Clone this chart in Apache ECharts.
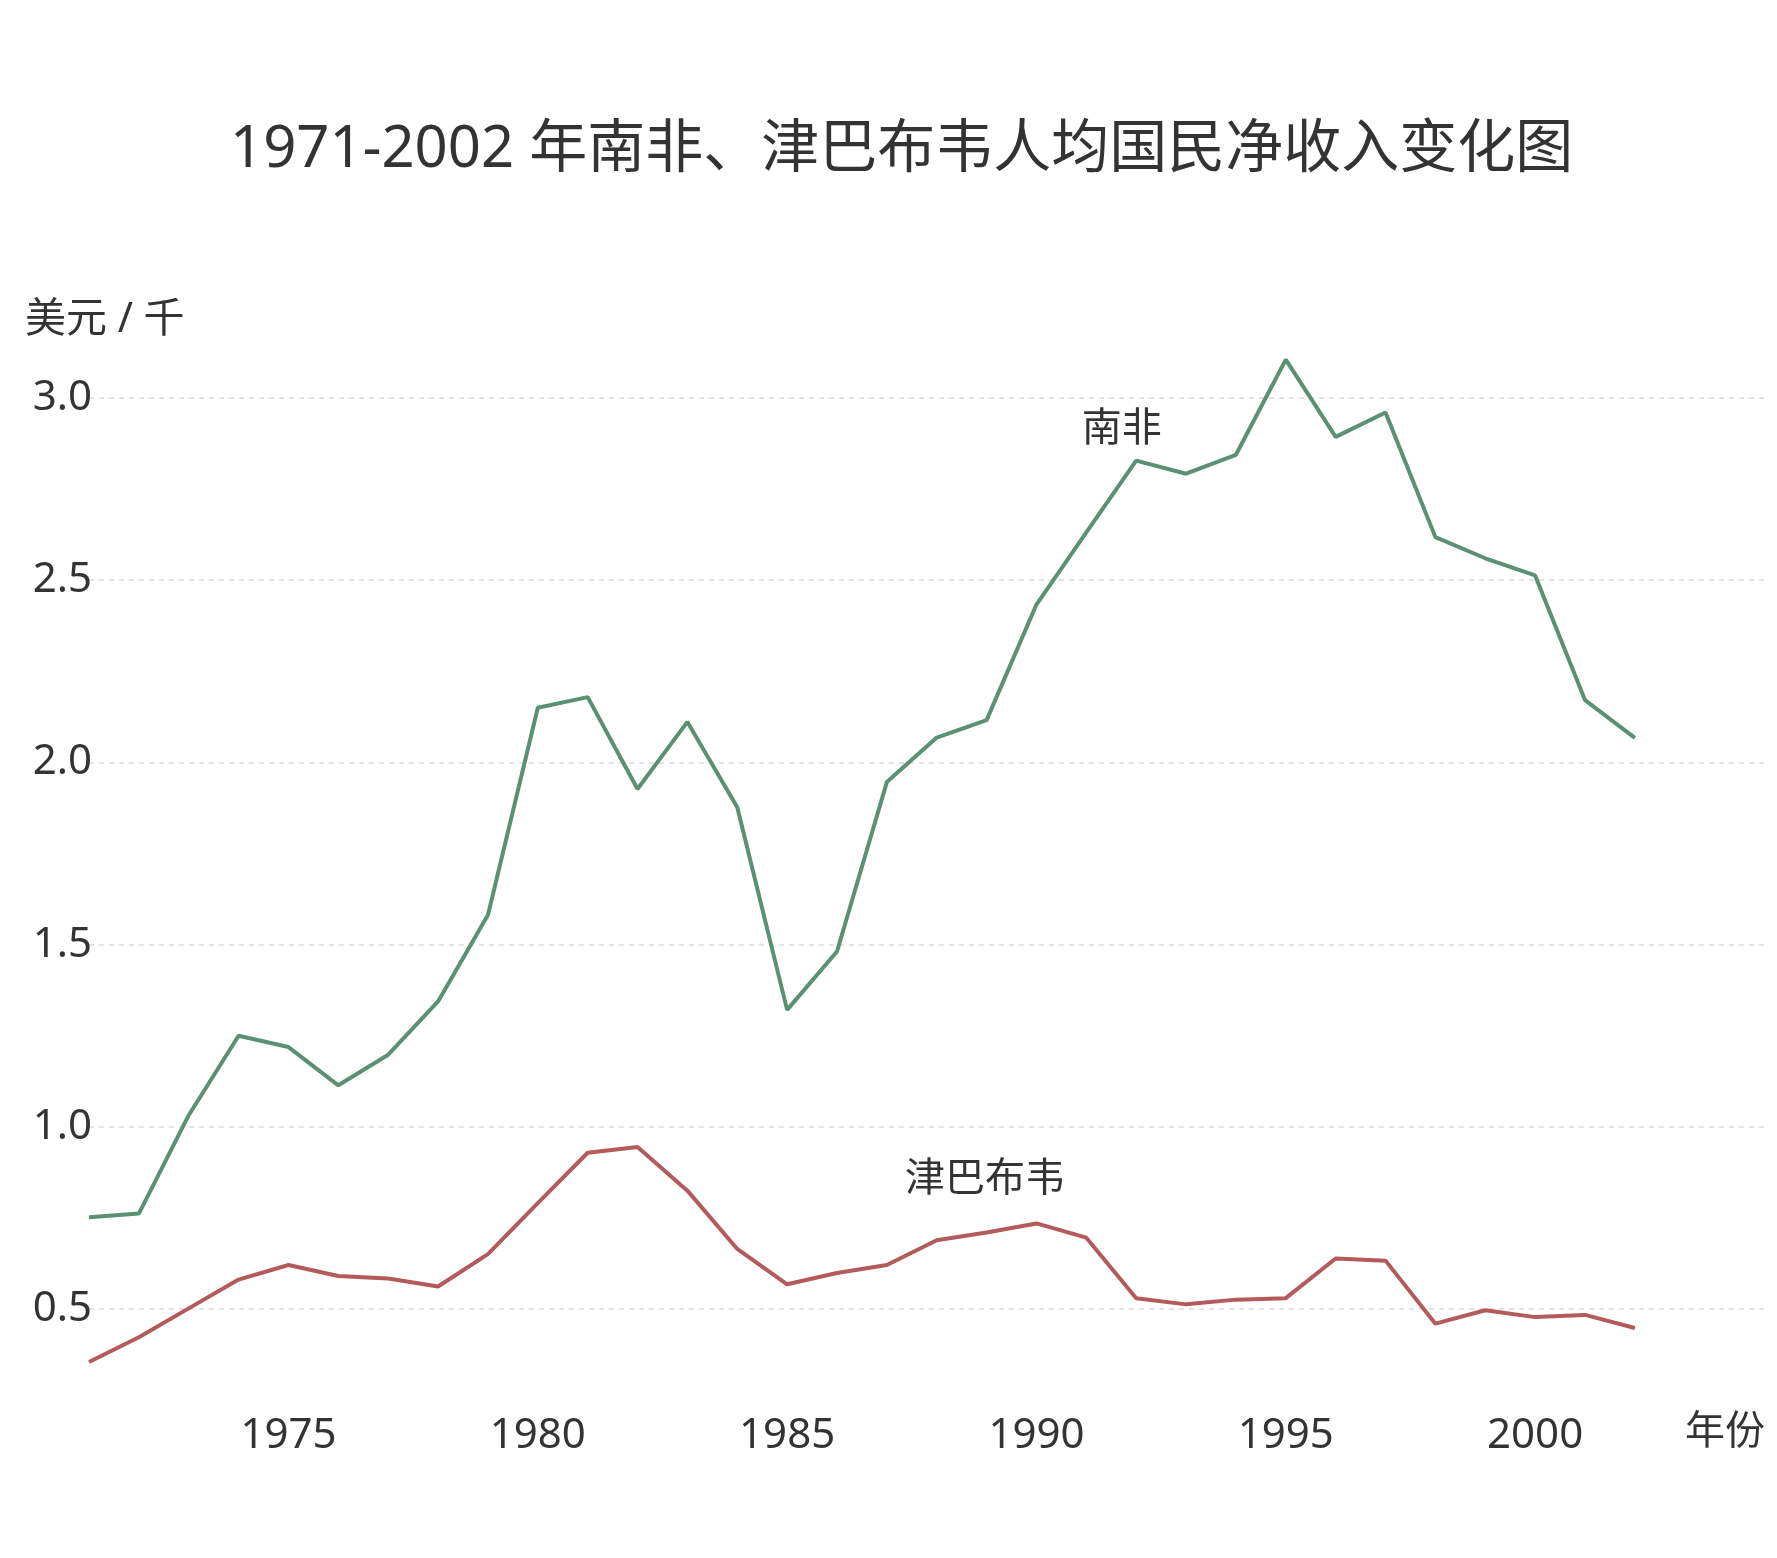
<!DOCTYPE html>
<html>
<head>
<meta charset="utf-8">
<script src="https://cdn.jsdelivr.net/npm/echarts@6/dist/echarts.min.js"></script>
<style>
html,body{margin:0;padding:0;background:#fff;}
#chart{width:1777px;height:1558px;}
</style>
</head>
<body>
<div id="chart"></div>
<script>
const years = [1971,1972,1973,1974,1975,1976,1977,1978,1979,1980,1981,1982,1983,1984,1985,1986,1987,1988,1989,1990,1991,1992,1993,1994,1995,1996,1997,1998,1999,2000,2001,2002];
const southAfrica = [0.752,0.762,1.032,1.250,1.219,1.114,1.198,1.344,1.581,2.150,2.179,1.927,2.111,1.877,1.321,1.481,1.946,2.068,2.116,2.433,2.631,2.828,2.792,2.844,3.105,2.893,2.960,2.618,2.560,2.513,2.171,2.067];
const zimbabwe = [0.355,0.423,0.502,0.581,0.621,0.591,0.584,0.562,0.651,0.791,0.929,0.945,0.825,0.665,0.568,0.599,0.621,0.689,0.710,0.735,0.696,0.530,0.513,0.526,0.530,0.639,0.633,0.460,0.497,0.478,0.484,0.448];
const yTicks = [0.5,1.0,1.5,2.0,2.5,3.0];
const xTicks = [1975,1980,1985,1990,1995,2000];
const seriesNames = ['南非','津巴布韦'];
const titleText = '1971-2002 年南非、津巴布韦人均国民净收入变化图';
const yAxisName = '美元 / 千';
const xAxisName = '年份';

const FONT = '"Noto Sans", "Noto Sans CJK SC", sans-serif';
const chart = echarts.init(document.getElementById('chart'));
const option = {
  backgroundColor: '#fff',
  animation: false,
  title: {
    text: titleText,
    left: 225,
    top: 116,
    textStyle: {fontFamily: FONT, fontSize: 58, fontWeight: 'normal', color: '#333'}
  },
  graphic: [
    {type: 'text', left: 25, top: 300, style: {text: yAxisName, font: '41px "Noto Sans", "Noto Sans CJK SC", sans-serif', fill: '#333'}},
    {type: 'text', left: 1685, top: 1413, style: {text: xAxisName, font: '40px "Noto Sans", "Noto Sans CJK SC", sans-serif', fill: '#333'}}
  ],
  grid: {left: 89, right: 9, top: 325, bottom: 176, containLabel: false},
  xAxis: {
    type: 'value',
    min: 1971,
    max: 2004.67,
    axisLine: {show: false},
    axisTick: {show: false, customValues: xTicks},
    splitLine: {show: false},
    axisLabel: {
      customValues: xTicks,
      margin: 33,
      fontFamily: FONT, fontSize: 42, color: '#333',
      formatter: v => String(v)
    }
  },
  yAxis: {
    type: 'value',
    min: 0.3,
    max: 3.2,
    axisLine: {show: false},
    axisTick: {show: false, customValues: yTicks},
    axisLabel: {
      customValues: yTicks,
      margin: -3,
      fontFamily: FONT, fontSize: 42, color: '#333',
      formatter: v => v.toFixed(1)
    },
    splitLine: {show: true, lineStyle: {color: '#d9d9d9', type: [5, 5], width: 1.5}}
  },
  series: [
    {
      name: seriesNames[0], type: 'line', showSymbol: false, symbol: 'none',
      lineStyle: {color: '#5a9175', width: 4},
      itemStyle: {color: '#5a9175'},
      data: years.map((y, i) => [y, southAfrica[i]]),
      markPoint: {
        symbol: 'circle', symbolSize: 1,
        itemStyle: {color: 'rgba(0,0,0,0)'},
        label: {show: true, position: 'inside', formatter: seriesNames[0], fontFamily: FONT, fontSize: 40, color: '#333'},
        data: [{coord: [1991.71, 2.912]}]
      }
    },
    {
      name: seriesNames[1], type: 'line', showSymbol: false, symbol: 'none',
      lineStyle: {color: '#b35b5b', width: 4},
      itemStyle: {color: '#b35b5b'},
      data: years.map((y, i) => [y, zimbabwe[i]]),
      markPoint: {
        symbol: 'circle', symbolSize: 1,
        itemStyle: {color: 'rgba(0,0,0,0)'},
        label: {show: true, position: 'inside', formatter: seriesNames[1], fontFamily: FONT, fontSize: 40, color: '#333'},
        data: [{coord: [1988.97, 0.855]}]
      }
    }
  ]
};
chart.setOption(option);
</script>
</body>
</html>
